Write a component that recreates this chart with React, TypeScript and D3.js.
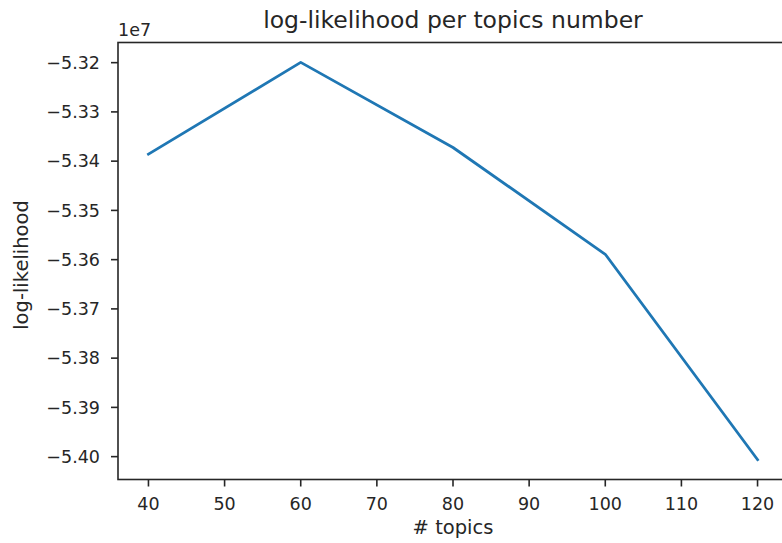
import React from "react";
import * as d3 from "d3";

// Number of topics vs. model log-likelihood
const topics = [40, 60, 80, 100, 120];
const logLikelihood = [-53385700, -53199400, -53372300, -53589100, -54006100];
const xTicks = [40, 50, 60, 70, 80, 90, 100, 110, 120];
const yTicks = [-5.32, -5.33, -5.34, -5.35, -5.36, -5.37, -5.38, -5.39, -5.4];

const W = 782;
const H = 543;
const left = 118;
const right = 788;
const top = 42.5;
const bottom = 479.5;

const FONT = "DejaVu Sans, sans-serif";
const INK = "#262626";

export default function App() {
  const xExt = d3.extent(topics) as [number, number];
  const xPad = (xExt[1] - xExt[0]) * 0.05;
  const x = d3.scaleLinear().domain([xExt[0] - xPad, xExt[1] + xPad]).range([left, right]);

  const yExt = d3.extent(logLikelihood.map((v) => v / 1e7)) as [number, number];
  const yPad = (yExt[1] - yExt[0]) * 0.05;
  const y = d3.scaleLinear().domain([yExt[0] - yPad, yExt[1] + yPad]).range([bottom, top]);

  const line = d3
    .line<number>()
    .x((_, i) => x(topics[i]))
    .y((v) => y(v / 1e7));

  const tickLen = 7;
  const tickFont = 17.5;
  const fmtY = (v: number) => (v < 0 ? "\u2212" : "") + Math.abs(v).toFixed(2);

  return (
    <svg
      width={W}
      height={H}
      style={{ position: "absolute", left: 0, top: 0, background: "#fff" }}
      fontFamily={FONT}
    >
      <rect x={0} y={0} width={W} height={H} fill="#fff" />
      <path
        d={line(logLikelihood) ?? ""}
        fill="none"
        stroke="#1f77b4"
        strokeWidth={2.8}
        strokeLinejoin="round"
        strokeLinecap="square"
      />
      {/* spines */}
      <rect
        x={left}
        y={top}
        width={right - left}
        height={bottom - top}
        fill="none"
        stroke={INK}
        strokeWidth={1.6}
      />
      {/* x axis ticks */}
      {xTicks.map((t) => (
        <g key={`x${t}`}>
          <line x1={x(t)} x2={x(t)} y1={bottom} y2={bottom + tickLen} stroke={INK} strokeWidth={1.6} />
          <text x={x(t)} y={510} textAnchor="middle" fontSize={tickFont} fill={INK}>
            {t}
          </text>
        </g>
      ))}
      {/* y axis ticks */}
      {yTicks.map((t) => (
        <g key={`y${t}`}>
          <line x1={left - tickLen} x2={left} y1={y(t)} y2={y(t)} stroke={INK} strokeWidth={1.6} />
          <text
            x={left - tickLen - 11}
            y={y(t)}
            dy="0.36em"
            textAnchor="end"
            fontSize={tickFont}
            fill={INK}
          >
            {fmtY(t)}
          </text>
        </g>
      ))}
      {/* offset multiplier */}
      <text x={left} y={36} fontSize={tickFont} fill={INK}>
        1e7
      </text>
      {/* title */}
      <text x={(left + right) / 2} y={28} textAnchor="middle" fontSize={23.5} fill={INK}>
        log-likelihood per topics number
      </text>
      {/* axis labels */}
      <text x={(left + right) / 2} y={534} textAnchor="middle" fontSize={19.5} fill={INK}>
        # topics
      </text>
      <text
        transform={`translate(28, ${(top + bottom) / 2 + 4}) rotate(-90)`}
        textAnchor="middle"
        fontSize={19.5}
        fill={INK}
      >
        log-likelihood
      </text>
    </svg>
  );
}
